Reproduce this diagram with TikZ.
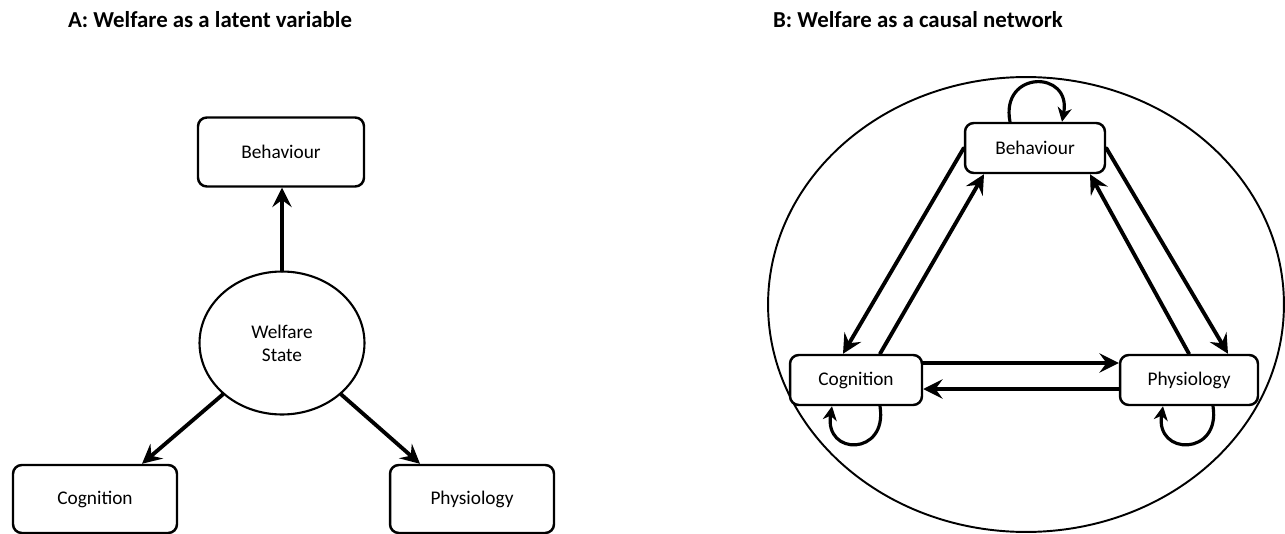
\documentclass[tikz,border=0pt]{standalone}
\usepackage{fontspec}
\setmainfont{Carlito}
\usetikzlibrary{arrows.meta,calc,shapes.geometric}

\begin{document}
\begin{tikzpicture}[x=0.02cm,y=-0.02cm,line cap=round,line join=round,
  every node/.style={font=\fontsize{11}{13}\selectfont},
  heading/.style={font=\fontsize{13}{15}\selectfont\bfseries},
  box/.style={draw,line width=1.4pt,rounded corners=5pt,fill=white},
  causal/.style={line width=2.2pt,-{Stealth[length=11pt,width=11pt,inset=4pt]}},
  selfloop/.style={line width=1.8pt,-{Stealth[length=8pt,width=8pt,inset=2.5pt]}}]
  \useasboundingbox (0,0) rectangle (1285,534);

  % A: one latent welfare state with three indicators
  \node[heading] (titA) at (210,20) {A: Welfare as a latent variable};
  \node[box,minimum width=3.32cm,minimum height=1.38cm] (beh1) at (281,152) {Behaviour};
  \node[ellipse,draw,line width=1.2pt,align=center,inner sep=0pt,
    minimum width=3.3cm,minimum height=2.86cm] (welf) at (282,343) {Welfare\\State};
  \node[box,minimum width=3.28cm,minimum height=1.36cm] (cog1) at (95,499) {Cognition};
  \node[box,minimum width=3.28cm,minimum height=1.36cm] (phy1) at (472,499) {Physiology};
  \draw[causal] (welf.north) -- (welf.north |- beh1.south);
  \draw[causal] (welf.221) -- ($(cog1.north)+(47,0)$);
  \draw[causal] (welf.-41) -- ($(phy1.north)+(-52,0)$);

  % B: the three parts act on each other and on themselves
  \node[heading] (titB) at (918,20) {B: Welfare as a causal network};
  \node[ellipse,draw,line width=1.1pt,inner sep=0pt,
    minimum width=10.32cm,minimum height=9.1cm] (net) at (1026,304.5) {};
  \node[box,minimum width=2.8cm,minimum height=1cm] (beh2) at (1035,148) {Behaviour};
  \node[box,minimum width=2.64cm,minimum height=1cm] (cog2) at (856,380) {Cognition};
  \node[box,minimum width=2.76cm,minimum height=1cm] (phy2) at (1189,380) {Physiology};
  % pairs of opposite arrows
  \draw[causal] (beh2.west) -- ($(cog2.north)+(-13,0)$);
  \draw[causal] ($(cog2.north)+(24,0)$) -- ($(beh2.south)+(-51,0)$);
  \draw[causal] (beh2.east) -- ($(phy2.north)+(39,0)$);
  \draw[causal] (phy2.north) -- ($(beh2.south)+(55,0)$);
  \draw[causal] ($(cog2.east)+(0,-17)$) -- ($(phy2.west)+(0,-17)$);
  \draw[causal] ($(phy2.west)+(0,9)$) -- ($(cog2.east)+(0,9)$);
  % self-loops
  \draw[selfloop] ($(beh2.north)+(-25,0)$) .. controls +(-10,-52) and +(10,-52) .. ($(beh2.north)+(27,0)$);
  \draw[selfloop] ($(cog2.south)+(24,0)$) .. controls +(8,50) and +(-8,50) .. ($(cog2.south)+(-24,0)$);
  \draw[selfloop] ($(phy2.south)+(24,0)$) .. controls +(8,50) and +(-8,50) .. ($(phy2.south)+(-26,0)$);
\end{tikzpicture}
\end{document}
